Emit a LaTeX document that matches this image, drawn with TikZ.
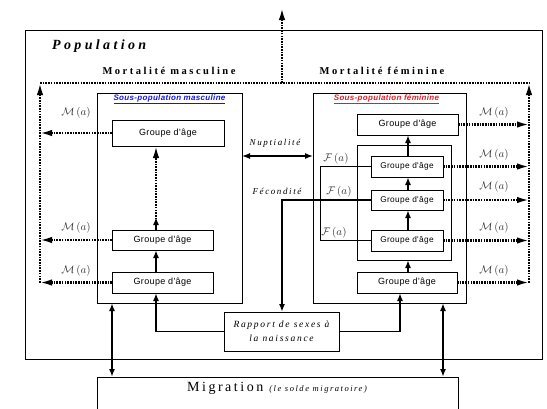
\documentclass[tikz,border=0pt]{standalone}
\usepackage{fontspec}
\setmainfont{Liberation Serif}
\setsansfont{Liberation Sans}
\usetikzlibrary{arrows.meta,calc}
\newfontfamily\spsf[LetterSpace=4]{Liberation Sans}
\newfontfamily\spser[LetterSpace=18]{Liberation Serif}
\newfontfamily\spserw[LetterSpace=24]{Liberation Serif}
\definecolor{fred}{RGB}{225,30,40}
\definecolor{mblue}{RGB}{20,20,230}
\begin{document}
\begin{tikzpicture}[x=1pt,y=-1pt,
 bx/.style={draw,line width=0.9pt,inner sep=0pt,outer sep=0pt},
 grp/.style={bx,font=\spsf\fontsize{9}{10}\selectfont},
 sgrp/.style={bx,font=\spsf\fontsize{8.3}{10}\selectfont},
 dl/.style={line width=2.1pt,dash pattern=on 1.6pt off 1.1pt},
 tip/.style={-{Latex[length=12pt,width=6.5pt]}},
 sarr/.style={line width=1.6pt,-{Latex[length=8pt,width=6pt]}},
 darr/.style={line width=1.6pt,{Latex[length=8pt,width=6pt]}-{Latex[length=8pt,width=6pt]}},
 lbl/.style={inner sep=0pt,text=black!80,font=\fontsize{11}{12}\selectfont},
 itl/.style={inner sep=0pt,font=\spser\itshape\fontsize{9}{11}\selectfont},
 mort/.style={inner sep=0pt,font=\spserw\bfseries\fontsize{10.5}{12}\selectfont}
]
\useasboundingbox (0,0) rectangle (547,408);
% boxes
\node[bx,line width=1pt,minimum width=517pt,minimum height=329pt] (pop) at (283.5,194.5) {};
\node[anchor=west,inner sep=0pt,font=\spserw\bfseries\itshape\fontsize{14}{16}\selectfont] (poptxt) at (52,46) {Population};
\node[mort] (mortm) at (169,71) {Mortalité masculine};
\node[mort] (mortf) at (382,71) {Mortalité féminine};
\node[bx,minimum width=145pt,minimum height=210pt] (msub) at (169.5,198) {};
\node[bx,minimum width=153pt,minimum height=210pt] (fsub) at (389.5,198) {};
\node[inner sep=0pt,text=mblue,font=\spsf\bfseries\itshape\fontsize{8}{9}\selectfont] (msubt) at (169.5,99) {\underline{Sous-population masculine}};
\node[inner sep=0pt,text=fred,font=\spsf\bfseries\itshape\fontsize{8}{9}\selectfont] (fsubt) at (386.5,99) {\underline{Sous-population féminine}};
% male groups
\node[grp,minimum width=112pt,minimum height=26pt] (mtop) at (168,133) {Groupe d'âge};
\node[grp,minimum width=101pt,minimum height=20pt] (mmid) at (162.5,240) {Groupe d'âge};
\node[grp,minimum width=101pt,minimum height=21pt] (mbot) at (162.5,282.5) {Groupe d'âge};
% female groups
\node[grp,minimum width=101pt,minimum height=21pt] (ftop) at (407.5,124.5) {Groupe d'âge};
\node[bx,minimum width=94pt,minimum height=115pt] (fin) at (404,202.5) {};
\node[sgrp,minimum width=72pt,minimum height=21pt] (f1) at (407,166.5) {Groupe d'âge};
\node[sgrp,minimum width=72pt,minimum height=20pt] (f2) at (407,200) {Groupe d'âge};
\node[sgrp,minimum width=72pt,minimum height=21pt] (f3) at (407,240.5) {Groupe d'âge};
\node[grp,minimum width=100pt,minimum height=21pt] (fbot) at (407,282.5) {Groupe d'âge};
% rapport, migration
\node[bx,minimum width=115pt,minimum height=39pt,align=center,font=\spser\itshape\fontsize{9.5}{14}\selectfont] (rap) at (281.5,331.5) {Rapport de sexes à\\la naissance};
\node[bx,minimum width=361pt,minimum height=46pt] (mig) at (277.5,400) {};
\node[inner sep=0pt] (migtxt) at (277,388) {{\spser\fontsize{14}{15}\selectfont Migration}\hspace{6pt}{\spser\itshape\fontsize{8.5}{10}\selectfont(le solde migratoire)}};
% coordinates
\coordinate (mx) at (156,0);
\coordinate (fx) at (408,0);
\coordinate (Lx) at (40,0);
\coordinate (Rx) at (529,0);
\coordinate (TL) at (40,83);
\coordinate (TR) at (529,83);
\coordinate (topx) at (282,83);
\coordinate (topend) at (282,8);
\coordinate (Fx) at (320,0);
\coordinate (fecx) at (282,0);
\coordinate (nupy) at (0,156);
\coordinate (rx) at (400,0);
\coordinate (mgL) at (112,0);
\coordinate (mgR) at (443,0);
% male arrows
\draw[sarr] (mbot.north -| mx) -- (mmid.south -| mx);
\draw[dl,tip] (mmid.north -| mx) -- (mtop.south -| mx);
\draw[sarr] (mmid.north -| mx) -- ++(0,-13);
% mortality frame
\draw[dl,tip] (mbot.west -| Lx) -- (TL);
\draw[dl] (TL) -- (TR);
\draw[dl,tip] (fbot.east -| Rx) -- (TR);
\draw[dl,tip] (topx) -- (topend);
\draw[dl,tip] (mtop.west) -- (mtop.west -| Lx);
\draw[dl,tip] (mmid.west) -- (mmid.west -| Lx);
\draw[dl,tip] (mbot.west) -- (mbot.west -| Lx);
\draw[dl,tip] (ftop.east) -- (ftop.east -| Rx);
\draw[dl,tip] (f1.east) -- (f1.east -| Rx);
\draw[dl,tip] (f2.east) -- (f2.east -| Rx);
\draw[dl,tip] (f3.east) -- (f3.east -| Rx);
\draw[dl,tip] (fbot.east) -- (fbot.east -| Rx);
% female arrows
\draw[sarr] (fbot.north -| fx) -- (fin.south -| fx);
\draw[sarr] (f3.north -| fx) -- (f2.south -| fx);
\draw[sarr] (f2.north -| fx) -- (f1.south -| fx);
\draw[sarr] (f1.north -| fx) -- (ftop.south -| fx);
% fertility
\draw[line width=0.9pt] (f1.west) -- (f1.west -| Fx) -- (f3.west -| Fx) -- (f3.west);
\draw[sarr] (f2.west) -- (f2.west -| fecx) -- (rap.north -| fecx);
\draw[line width=1.3pt,{Latex[length=8pt,width=6pt]}-{Latex[length=8pt,width=6pt]}] (msub.east |- nupy) -- (fsub.west |- nupy);
% rapport
\draw[sarr] (rap.west) -| (mbot.south -| mx);
\draw[sarr] (rap.east) -| (fbot.south -| rx);
% migration
\draw[darr] (msub.south -| mgL) -- (mig.north -| mgL);
\draw[darr] (fsub.south -| mgR) -- (mig.north -| mgR);
% labels
\node[lbl] (lm1) at (76,113) {$\mathcal{M}\,(a)$};
\node[lbl] (lm2) at (76,228) {$\mathcal{M}\,(a)$};
\node[lbl] (lm3) at (76,271) {$\mathcal{M}\,(a)$};
\node[lbl] (rm1) at (494,113) {$\mathcal{M}\,(a)$};
\node[lbl] (rm2) at (494,155) {$\mathcal{M}\,(a)$};
\node[lbl] (rm3) at (494,187) {$\mathcal{M}\,(a)$};
\node[lbl] (rm4) at (494,228) {$\mathcal{M}\,(a)$};
\node[lbl] (rm5) at (494,271) {$\mathcal{M}\,(a)$};
\node[lbl] (fa1) at (336,159) {$\mathcal{F}\,(a)$};
\node[lbl] (fa2) at (339,192) {$\mathcal{F}\,(a)$};
\node[lbl] (fa3) at (334,233) {$\mathcal{F}\,(a)$};
\node[itl] (nup) at (275,143) {Nuptialité};
\node[itl] (fec) at (277,191) {Fécondité};
\end{tikzpicture}
\end{document}
